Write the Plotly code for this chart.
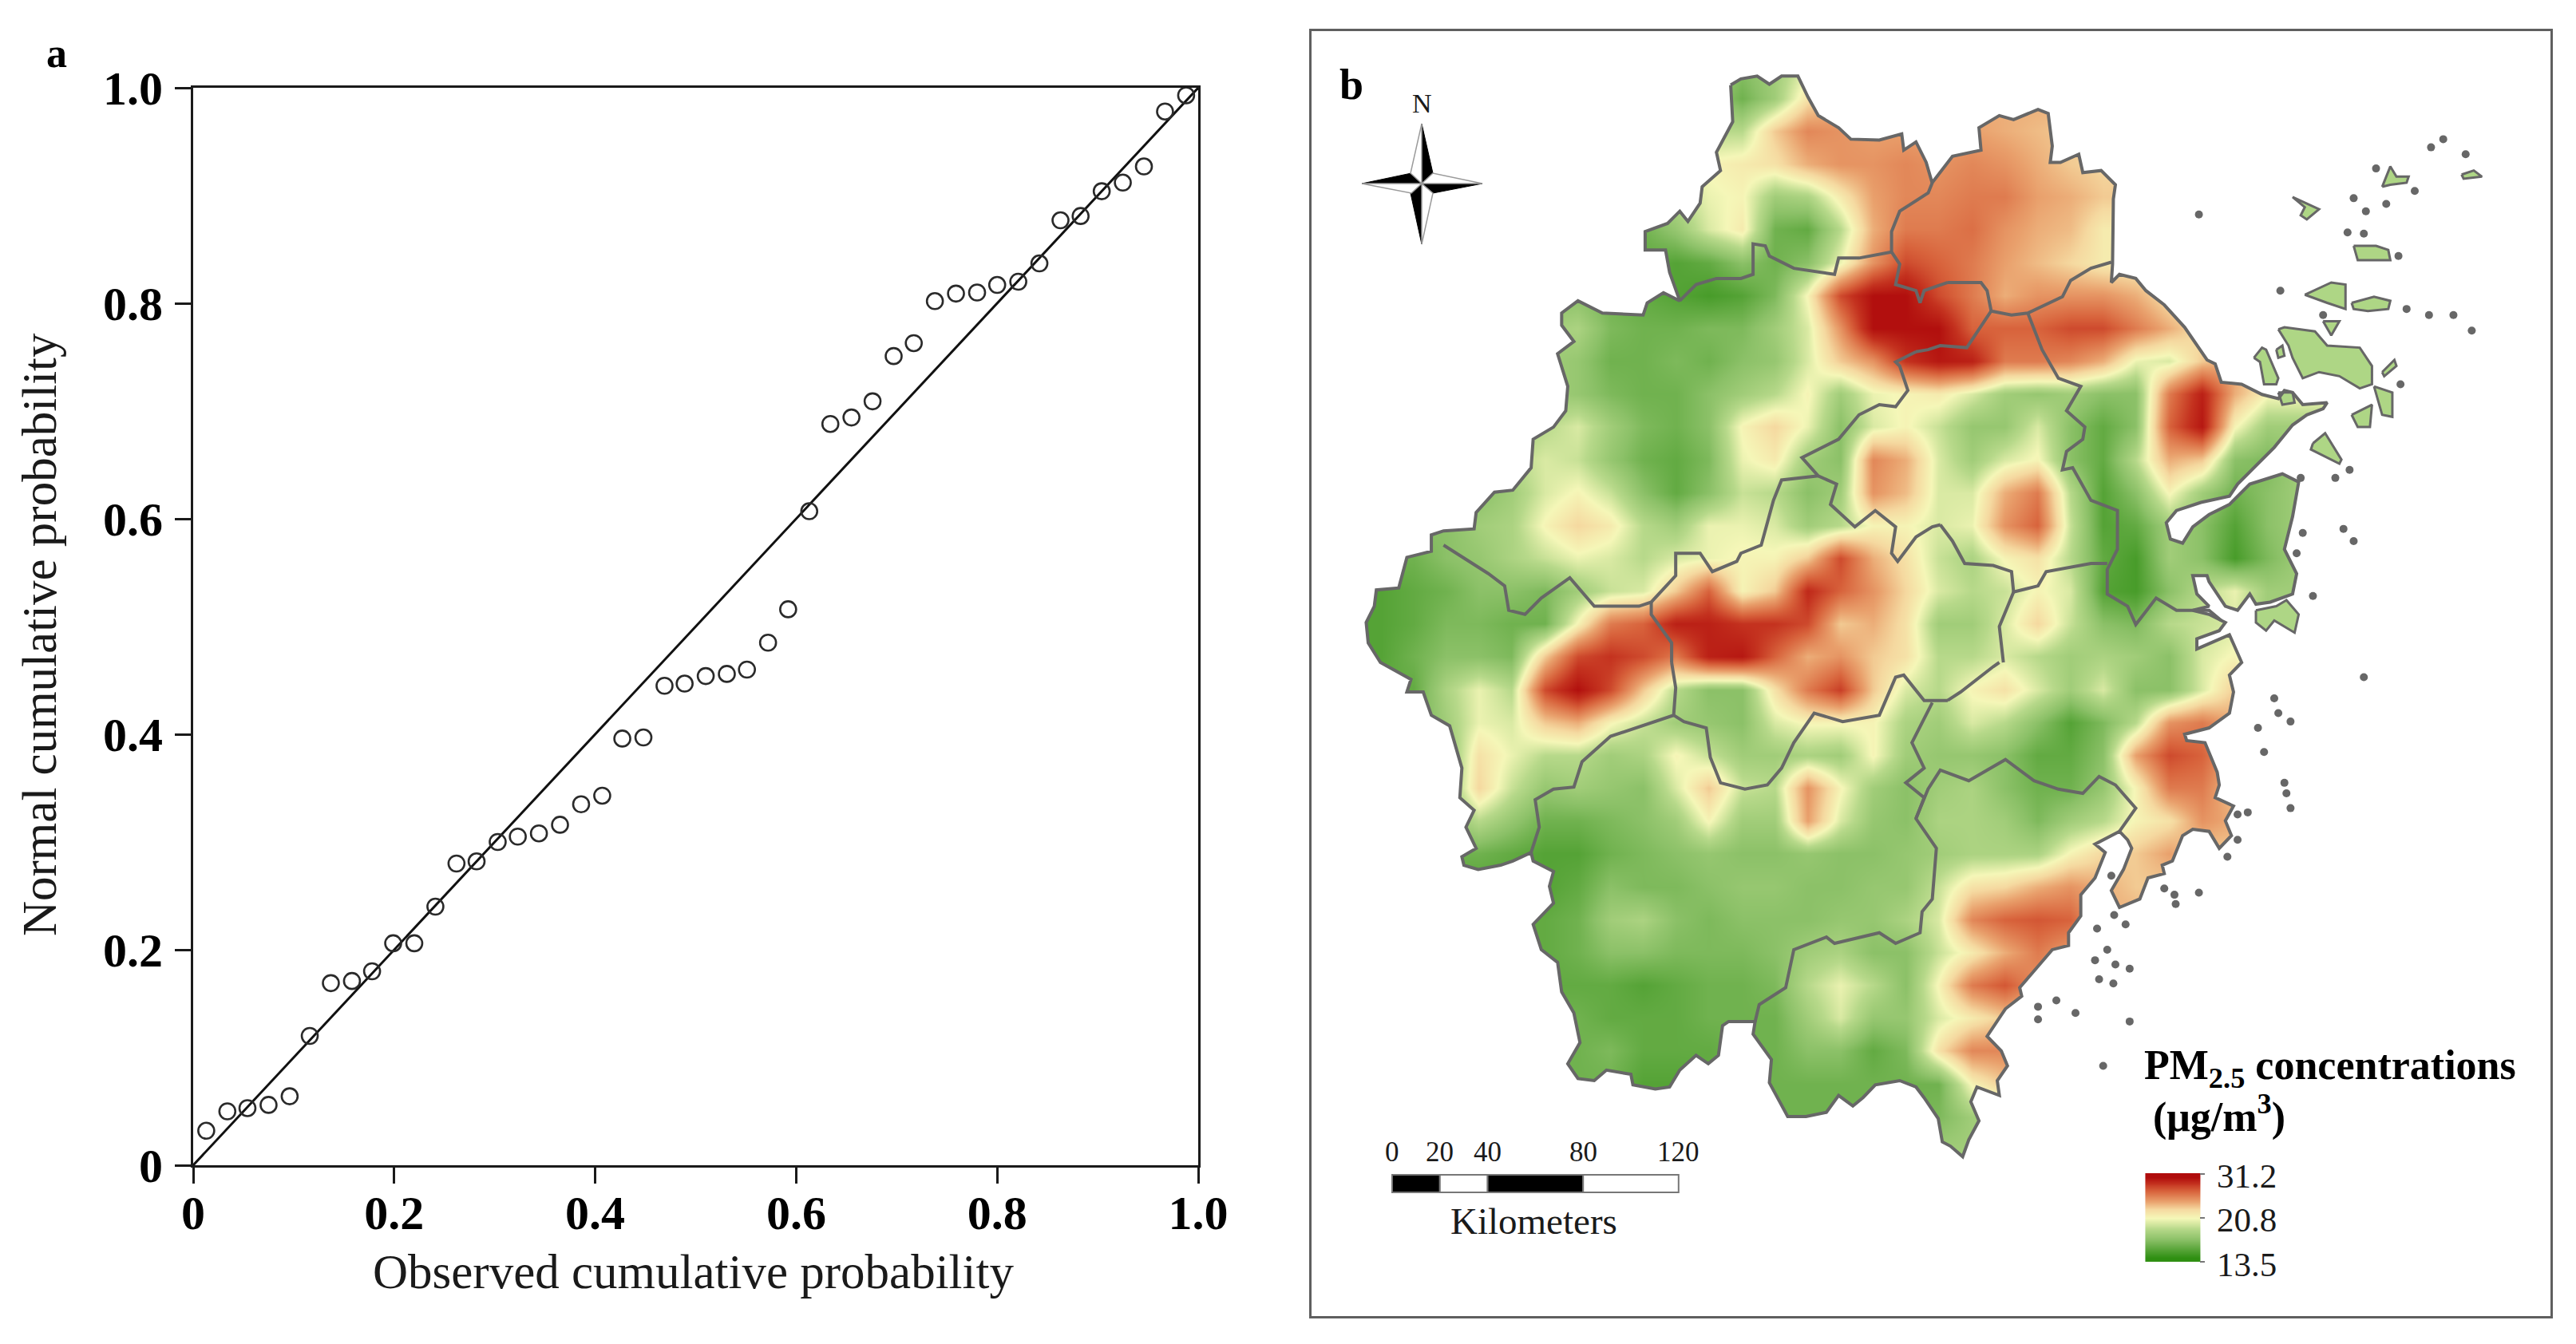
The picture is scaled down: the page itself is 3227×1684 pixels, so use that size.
"""
Two-panel figure: normal P-P plot (a) and PM2.5 map of Zhejiang (b).
Map values and outlines are read off the reference by eye.
"""

import plotly.graph_objects as go

W, H = 3227, 1684
PAGE_GAP = 8  # the browser page adds this much above and left of the figure
SERIF = "Liberation Serif"
INK = "#1a1a1a"
OUTLINE = "#676767"

# ── panel a ─────────────────────────────────────────────────────────────────

OBSERVED = [
    0.013, 0.034, 0.054, 0.075, 0.096, 0.116, 0.137, 0.158, 0.178, 0.199, 0.220, 0.241, 0.262, 0.282, 0.303, 0.323,
    0.344, 0.365, 0.386, 0.407, 0.427, 0.448, 0.469, 0.489, 0.510, 0.531, 0.551, 0.572, 0.592, 0.613, 0.634, 0.655,
    0.676, 0.697, 0.717, 0.738, 0.759, 0.780, 0.800, 0.821, 0.842, 0.863, 0.883, 0.904, 0.925, 0.946, 0.967, 0.988,
]
NORMAL = [
    0.032, 0.050, 0.053, 0.056, 0.064, 0.120, 0.169, 0.171, 0.180, 0.206, 0.206, 0.240, 0.280, 0.282, 0.300, 0.305,
    0.308, 0.316, 0.335, 0.343, 0.396, 0.397, 0.445, 0.447, 0.454, 0.456, 0.460, 0.485, 0.516, 0.607, 0.688, 0.694,
    0.709, 0.751, 0.763, 0.802, 0.809, 0.810, 0.817, 0.820, 0.837, 0.877, 0.881, 0.904, 0.912, 0.927, 0.978, 0.993,
]
REF_LINE = [0, 1]
TICK_VALUES = [0, 0.2, 0.4, 0.6, 0.8, 1.0]
TICK_LABELS = ["0", "0.2", "0.4", "0.6", "0.8", "1.0"]

# ── panel b: PM2.5 grid, one row every 41 px from the top of the map ────────

GRID_COLS = 31
PM25_ROWS = [
    [18, 18, 18, 18, 18, 18, 18, 18, 18, 18, 18, 18, 17, 18, 20, 22, 24],
    [18, 18, 18, 18, 18, 18, 18, 18, 18, 18, 18, 18, 16, 18, 22, 24, 24],
    [18, 18, 18, 18, 18, 18, 18, 18, 18, 18, 18, 19, 19, 23, 25.5, 25, 24.5, 24.5, 24.5, 24.5, 24, 23.5, 23, 23],
    [18, 18, 18, 18, 18, 18, 18, 18, 18, 18, 20, 21, 21.5, 22, 24, 25, 25, 25.5, 25, 25.5, 25, 24, 23, 22.5],
    [17, 17, 17, 17, 17, 17, 17, 17, 17, 18, 19, 20.5, 21, 18, 18.5, 21.5, 24.5, 25.5, 25.5, 26, 26, 24.5, 24, 23],
    [16, 16, 16, 16, 16, 16, 16, 16, 16, 16, 17.5, 20, 21.5, 16, 15.5, 19, 24, 26, 26, 26.5, 25, 24, 23.5, 21.5],
    [16, 16, 16, 16, 16, 16, 16, 16, 16, 15.5, 15, 15.5, 17, 16, 17, 20.5, 25, 28, 27, 26, 24.5, 23.5, 22.5, 21.5],
    [17, 17, 17, 17, 17, 17, 17, 17, 16, 15.5, 15, 14.5, 15, 16.5, 21, 28, 31, 31, 28, 26, 24, 25, 25, 25, 24, 22],
    [18, 18, 18, 18, 18, 18, 18, 18.5, 16.5, 16, 16, 16.5, 16.5, 18, 20, 25, 31, 31, 31, 27, 27, 27, 28, 28, 26, 24,
     22, 20],
    [18, 18, 18, 18, 18, 18, 18, 17.5, 16, 16, 16.5, 16, 17, 17.5, 20, 23, 25, 29, 30.5, 30, 26, 26, 25.5, 24, 20.5,
     20, 23, 24.5, 23],
    [18, 18, 18, 18, 18, 18, 18, 17.5, 16.5, 16, 16, 17, 18, 19, 21, 18, 20.5, 21, 21.5, 20, 18, 17.5, 18, 17, 17,
     26, 30, 24, 21, 21],
    [18, 18, 18, 18, 18, 18, 19, 20, 18, 16.5, 16, 17, 21, 22.5, 20.5, 17, 20, 21, 19.5, 17.5, 17.5, 20, 17, 15.5,
     17, 27, 30.5, 21, 18, 18],
    [17, 17, 17, 17, 17, 19, 20, 19.5, 17.5, 16, 15.5, 16.5, 20.5, 21.5, 18, 17, 25.5, 24, 20, 18, 20, 21, 17, 15.5,
     19, 24, 23, 17, 16.5, 18],
    [17, 17, 17, 17, 17, 18, 20, 21, 19.5, 17, 15.5, 17, 19.5, 19, 17, 18, 25, 23.5, 20, 20, 24, 26, 19, 15, 17, 21,
     18, 16, 17, 18],
    [17, 17, 17, 17, 18, 18.5, 21, 22.5, 21.5, 19, 18, 20.5, 20.5, 20, 18, 19, 21, 21, 20, 20.5, 25, 27, 19.5, 15,
     15.5, 18, 17, 15, 17, 18],
    [16, 16, 16, 17, 17.5, 18.5, 19.5, 20.5, 20, 19, 20, 20.5, 21, 21, 23, 28, 24, 22, 19.5, 18.5, 21, 22, 19, 15.5,
     14.5, 18, 17, 14.5, 16.5, 18],
    [15, 15, 15.5, 16, 17, 17, 16.5, 18, 19.5, 20, 23, 27, 21, 23, 29.5, 27, 25, 22.5, 20, 19, 19.5, 21, 20, 15,
     14.5, 17, 19, 20.5, 18, 18],
    [15, 15, 15.5, 16.5, 16.5, 16, 16, 21, 26, 27, 30, 30, 29, 29, 28, 23, 24, 22, 18, 18, 20, 22.5, 19.5, 17, 16.5,
     19, 19.5, 20, 18, 18],
    [15, 15, 16, 17, 17, 16.5, 23, 28, 29, 28, 26, 30, 30.5, 27, 24, 25, 23, 22, 19, 19, 20, 19, 18, 18.5, 18, 17,
     20, 21, 18, 18],
    [15.5, 15.5, 15.5, 18.5, 20.5, 19, 28, 31, 28, 23, 19, 17, 17, 22, 26, 28.5, 23, 20, 19, 21, 22, 20, 18, 20, 17,
     17, 20, 23, 22],
    [16, 16, 16, 18, 20.5, 20, 23, 24, 21, 19.5, 18, 17.5, 17, 20, 21, 21, 21, 18.5, 18, 20, 19, 17, 15, 16.5, 19,
     25, 26, 24],
    [17, 17, 17, 17, 22, 20.5, 19, 19, 18, 18.5, 21, 19.5, 18, 18, 18.5, 18, 21, 18, 17.5, 17.5, 17, 15.5, 15.5, 17,
     24.5, 28, 27, 24],
    [17, 17, 17, 17, 22.5, 19.5, 17.5, 18, 17.5, 17, 20, 23, 19.5, 19, 25, 21, 18, 17, 18, 18.5, 17, 16, 16, 17.5,
     21, 26, 26, 23],
    [17, 17, 17, 17, 19, 17.5, 16, 16, 16.5, 17, 18, 21, 18, 18, 24.5, 20, 17.5, 17, 18.5, 18.5, 18, 16.5, 18, 19,
     21, 22, 25, 24],
    [16, 16, 16, 16, 16, 15.5, 15, 15, 16, 16.5, 17, 17.5, 17, 17, 17.5, 17, 17, 17.5, 18, 18.5, 18.5, 18.5, 21,
     22.5, 23, 24.5, 23],
    [15, 15, 15, 15, 15, 15, 15, 15.5, 17, 16.5, 16.5, 17, 17.5, 17.5, 17, 17, 17.5, 17.5, 19.5, 22, 22.5, 24, 25,
     24, 23],
    [15.5, 15.5, 15.5, 15.5, 15.5, 15.5, 15.5, 16, 18, 18.5, 17, 16.5, 17, 17, 17, 17.5, 17.5, 18.5, 20, 25.5, 27,
     27.5, 27, 24],
    [15.5, 15.5, 15.5, 15.5, 15.5, 15.5, 15.5, 16, 17, 17, 16.5, 16.5, 16.5, 17, 18, 18.5, 17, 17, 19.5, 21.5, 24,
     26, 24.5],
    [15.5, 15.5, 15.5, 15.5, 15.5, 15.5, 15.5, 15.5, 15.5, 15, 15.5, 16, 16, 16.5, 19, 20.5, 19, 17, 21, 26, 27.5,
     25],
    [16, 16, 16, 16, 16, 16, 16, 16, 15.5, 15.5, 15.5, 16, 16, 16, 18, 20, 17.5, 17.5, 20, 21.5, 23],
    [16, 16, 16, 16, 16, 16, 16, 16, 16.5, 15.5, 15.5, 15.5, 16, 16, 17, 17, 15.5, 16.5, 22, 25.5, 25.5, 23],
    [16, 16, 16, 16, 16, 16, 16, 16, 16, 15, 15, 15.5, 16, 16, 16, 16, 16, 16, 16, 21, 23],
    [16, 16, 16, 16, 16, 16, 16, 16, 16, 16, 16, 16, 16, 16, 16, 16, 16, 16, 16.5, 18],
    [16, 16, 16, 16, 16, 16, 16, 16, 16, 16, 16, 16, 16, 16, 16, 16, 16, 16, 18, 18],
]
LEGEND_VALUES = [31.2, 28.5, 26.5, 24.5, 22.5, 20.8, 19.5, 18, 16.5, 15, 13.5]
LEGEND_LABELS = ["31.2", "20.8", "13.5"]
SCALE_KM = [0, 20, 40, 80, 120]

# outline vertices as traced in four crops of the map: north-west, north-east,
# south-west, south-east. px() below turns them into picture pixels.

COAST_TOP = [
    (1035, 150), (1060, 135), (1100, 128), (1130, 148), (1160, 128), (1200, 128), (1225, 180), (1250, 225),
    (1300, 255), (1330, 283), (1400, 285), (1455, 270), (1460, 310), (1490, 290), (1515, 340),
]
COAST_EAST = [
    (40, 390), (90, 325), (160, 310), (155, 255), (205, 225), (240, 235), (300, 210), (325, 220), (335, 300),
    (330, 340), (355, 340), (400, 320), (410, 365), (455, 360), (490, 395), (485, 430), (483, 590), (480, 635),
    (500, 615), (540, 625), (565, 655), (610, 690), (660, 745), (715, 825), (735, 835), (750, 880), (800, 885),
    (850, 910), (890, 920), (905, 900), (925, 905), (950, 935), (1010, 930), (1000, 945), (960, 960), (925, 985),
    (880, 1040), (830, 1090), (790, 1130), (770, 1160), (700, 1175), (640, 1195), (615, 1225), (625, 1265),
    (655, 1275), (680, 1235), (720, 1205), (770, 1180), (820, 1130), (900, 1105), (940, 1125), (925, 1210),
    (905, 1290), (935, 1350), (925, 1400), (870, 1420), (835, 1425), (820, 1400), (790, 1440), (760, 1430),
    (720, 1370), (715, 1355), (680, 1355), (690, 1400), (720, 1430), (680, 1440), (720, 1450), (760, 1470),
    (745, 1490), (690, 1510), (690, 1535), (770, 1500), (800, 1568),
]
COAST_SOUTH_EAST = [
    (770, 30), (780, 70), (770, 120), (720, 155), (660, 170), (665, 185), (710, 190), (740, 260), (745, 290),
    (735, 320), (780, 340), (760, 375), (775, 410), (745, 440), (720, 400), (680, 395), (655, 410), (630, 470),
    (605, 480), (610, 500), (570, 510), (550, 560), (500, 580), (480, 540), (510, 490), (530, 440), (520, 420),
    (500, 400), (440, 430), (465, 450), (440, 510), (405, 550), (405, 600), (375, 640), (375, 670), (335, 680),
    (255, 770), (260, 790), (220, 820), (175, 885), (210, 920), (225, 955), (200, 990), (205, 1025), (150, 1005),
    (135, 1040), (155, 1085), (130, 1130), (115, 1170), (85, 1145), (65, 1135), (55, 1080), (20, 1030),
]
COAST_SOUTH_WEST = [
    (1490, 1005), (1450, 990), (1390, 1000), (1360, 1030), (1335, 1050), (1300, 1025), (1270, 1065), (1220, 1075),
    (1175, 1075), (1130, 995), (1135, 940), (1090, 880), (1095, 850), (1030, 850), (1015, 860), (1005, 930),
    (980, 950), (950, 930), (910, 965), (885, 1005), (850, 1010), (795, 1000), (790, 975), (730, 965), (700, 990),
    (660, 985), (635, 950), (665, 900), (650, 830), (620, 780), (610, 710), (570, 680), (550, 620), (600, 570),
    (590, 530), (600, 495), (550, 470), (545, 450), (500, 470), (470, 480), (415, 490), (380, 480), (375, 460),
    (410, 440), (385, 390), (405, 350), (370, 320), (375, 250), (345, 150), (300, 125), (280, 70), (240, 70),
    (250, 40), (175, 0),
]
COAST_WEST = [
    (145, 1520), (140, 1470), (160, 1430), (165, 1390), (220, 1385), (240, 1310), (300, 1295), (300, 1255),
    (330, 1245), (405, 1240), (410, 1200), (455, 1150), (500, 1145), (545, 1090), (550, 1020), (600, 990),
    (630, 950), (635, 890), (610, 810), (650, 780), (620, 740), (620, 710), (660, 680), (720, 710), (820, 715),
    (830, 685), (870, 660), (910, 680), (885, 610), (875, 555), (825, 555), (825, 510), (880, 490), (910, 460),
    (930, 485), (960, 440), (965, 400), (1010, 360), (1000, 315), (1040, 240),
]

# city borders: (crop, vertices)
BORDERS = [
    ("nw", [(910, 680), (950, 640), (1000, 625), (1060, 625), (1090, 615), (1090, 540), (1120, 545), (1130, 570),
            (1190, 600), (1290, 615), (1300, 575), (1350, 575), (1430, 560)]),
    ("nw", [(1530, 390), (1520, 415), (1450, 460), (1430, 510), (1430, 560), (1450, 590), (1440, 640), (1490, 655),
            (1500, 685), (1510, 655), (1568, 635)]),
    ("ne", [(78, 635), (160, 635), (175, 655), (185, 705), (235, 715), (275, 710), (360, 670), (380, 630),
            (430, 600), (480, 585)]),
    ("ne", [(185, 705), (125, 795), (60, 790), (30, 800), (0, 805)]),
    ("nw", [(1490, 805), (1440, 830), (1450, 840), (1470, 900), (1440, 940), (1400, 935), (1350, 960), (1300, 1020),
            (1210, 1065), (1250, 1110), (1295, 1130), (1280, 1180), (1340, 1235), (1390, 1195), (1440, 1235),
            (1430, 1300), (1445, 1320), (1490, 1260), (1530, 1235), (1550, 1230)]),
    ("ne", [(60, 1230), (90, 1270), (120, 1325), (190, 1330), (235, 1345), (240, 1395), (300, 1380), (320, 1345),
            (430, 1325), (470, 1325)]),
    ("nw", [(1250, 1110), (1160, 1120), (1140, 1170), (1110, 1280), (1060, 1300), (1050, 1320), (990, 1345),
            (960, 1300), (900, 1300), (900, 1355), (840, 1420), (810, 1430), (700, 1430), (640, 1360), (570, 1410),
            (530, 1450), (490, 1440), (480, 1380), (440, 1350), (330, 1280)]),
    ("nw", [(840, 1420), (840, 1450), (890, 1520), (890, 1568)]),
    ("sw", [(890, 0), (900, 60), (895, 125), (820, 150), (740, 175), (670, 235), (650, 295), (600, 300), (555, 325),
            (565, 390), (545, 450)]),
    ("sw", [(895, 125), (920, 140), (975, 155), (985, 225), (1010, 285), (1070, 300), (1125, 290), (1160, 250),
            (1190, 190), (1240, 120), (1310, 140), (1400, 125), (1440, 35), (1460, 30), (1510, 90), (1568, 90)]),
    ("se", [(78, 90), (110, 70), (190, 10), (205, 0)]),
    ("ne", [(240, 1395), (205, 1480), (215, 1568)]),
    ("sw", [(1530, 95), (1480, 190), (1510, 250), (1465, 285), (1510, 320), (1490, 370), (1540, 440), (1530, 560),
            (1505, 590), (1500, 640), (1440, 665), (1400, 640), (1290, 665), (1270, 650), (1190, 680), (1170, 770),
            (1105, 810), (1095, 850)]),
    ("se", [(0, 370), (30, 300), (60, 255), (130, 280), (220, 230), (290, 280), (350, 300), (410, 310), (450, 270),
            (490, 290), (540, 345), (500, 400)]),
    ("ne", [(275, 710), (310, 800), (350, 870), (405, 890), (370, 950), (415, 990), (410, 1020), (370, 1050),
            (360, 1095), (385, 1090), (430, 1170), (495, 1195), (495, 1290), (470, 1340), (470, 1400), (520, 1430),
            (540, 1475), (590, 1410), (640, 1440), (720, 1440), (750, 1465)]),
]

ISLANDS = [
    [(890, 750), (905, 745), (980, 755), (1010, 790), (1090, 795), (1120, 840), (1120, 885), (1090, 895), (1040, 865),
     (990, 855), (950, 870), (925, 820), (915, 790)],
    [(830, 820), (850, 795), (860, 800), (890, 870), (885, 885), (855, 885), (845, 830)],
    [(955, 665), (1020, 635), (1055, 640), (1055, 700), (1010, 685)],
    [(1070, 685), (1125, 670), (1165, 680), (1160, 700), (1110, 705), (1075, 700)],
    [(1075, 545), (1130, 545), (1160, 555), (1165, 580), (1085, 580)],
    [(925, 425), (990, 455), (960, 480), (945, 470), (955, 450)],
    [(1125, 890), (1170, 905), (1170, 965), (1145, 960)],
    [(975, 1030), (1005, 1005), (1045, 1070), (1040, 1080), (970, 1045)],
    [(1070, 960), (1120, 935), (1115, 990), (1085, 990)],
    [(1145, 855), (1175, 825), (1180, 840), (1150, 865)],
    [(1145, 400), (1165, 350), (1180, 375), (1210, 375), (1205, 390), (1165, 395)],
    [(1340, 370), (1370, 360), (1390, 375), (1345, 380)],
    [(1000, 730), (1040, 730), (1020, 765)],
    [(890, 905), (925, 905), (930, 930), (900, 935)],
    [(885, 800), (900, 790), (905, 815), (890, 820)],
    [(835, 1440), (885, 1430), (910, 1415), (940, 1450), (930, 1495), (880, 1465), (860, 1490), (835, 1470)],
]
ISLETS_NE = [
    (695, 468), (1075, 428), (1295, 283), (1265, 303), (1350, 320), (1130, 355), (1225, 410), (1155, 442), (1105, 460),
    (1060, 512), (1100, 515), (1185, 570), (895, 655), (1205, 700), (1260, 715), (1320, 715), (1365, 753), (1000, 715),
    (1190, 885), (1030, 1115), (1065, 1095), (950, 1250), (935, 1300), (975, 1405), (1075, 1270), (945, 1115),
    (1050, 1240),
]
ISLETS_SE = [
    (1100, 35), (880, 85), (890, 120), (920, 140), (840, 155), (855, 212), (905, 285), (910, 310), (920, 345),
    (815, 355), (790, 360), (790, 420), (765, 460), (610, 535), (695, 545), (635, 550), (638, 572), (480, 505),
    (487, 598), (515, 620), (445, 630), (470, 680), (440, 705), (490, 715), (525, 725), (450, 750), (485, 760),
    (300, 815), (345, 800), (392, 830), (300, 845), (525, 850), (460, 955),
]

# ── helpers ─────────────────────────────────────────────────────────────────


def px(crop, pts):
    """Crop coordinates to picture pixels."""
    x0 = 1640 if crop in ("nw", "sw") else 2400
    y0, sy = (30, 0.5102) if crop in ("nw", "ne") else (830, 0.5293)
    return [(x0 + x * 0.5102, y0 + y * sy) for x, y in pts]


def split(pts):
    return [p[0] for p in pts], [p[1] for p in pts]


def signed_area(pts):
    return sum(a[0] * b[1] - b[0] * a[1] for a, b in zip(pts, pts[1:] + pts[:1])) / 2


def joined(paths):
    xs, ys = [], []
    for path in paths:
        x, y = split(path)
        xs += x + [None]
        ys += y + [None]
    return xs, ys


def label(text, x, y, size, bold=False, **kwargs):
    return dict(
        text=f"<b>{text}</b>" if bold else text,
        x=x, y=y, xref="x2", yref="y2", showarrow=False, xanchor=kwargs.pop("xanchor", "center"),
        yanchor="middle", font=dict(family=SERIF, size=size, color=kwargs.pop("color", INK)), **kwargs,
    )


def page_label(text, x, y, size, **kwargs):
    return dict(
        text=text, x=(x - PAGE_GAP) / W, y=1 - (y - PAGE_GAP) / H, xref="paper", yref="paper", showarrow=False,
        xanchor="center", yanchor="middle", font=dict(family=SERIF, size=size, color=kwargs.pop("color", INK)),
        **kwargs,
    )


def x_domain(left, right):
    return [(left - PAGE_GAP) / W, (right - PAGE_GAP) / W]


def y_domain(top, bottom):
    return [1 - (bottom - PAGE_GAP) / H, 1 - (top - PAGE_GAP) / H]


province = (
    px("nw", COAST_TOP) + px("ne", COAST_EAST) + px("se", COAST_SOUTH_EAST)
    + px("sw", COAST_SOUTH_WEST) + px("nw", COAST_WEST)
)
province_closed = province + province[:1]

# white sheet with a province-shaped hole keeps the smooth grid inside the coast
sheet = [(1650, 50), (2960, 50), (2960, 1463), (1650, 1463)]
hole = province if signed_area(province) * signed_area(sheet) < 0 else province[::-1]

z_grid = [row + [row[-1]] * (GRID_COLS - len(row)) for row in PM25_ROWS]
grid_x = [1688 + 41.16 * i for i in range(GRID_COLS)]
grid_y = [82 + 41.16 * j for j in range(len(z_grid))]

fig = go.Figure()

# ── panel a traces ──────────────────────────────────────────────────────────

fig.add_trace(go.Scatter(
    x=REF_LINE, y=REF_LINE, mode="lines", line=dict(color="#111111", width=3), xaxis="x", yaxis="y",
    cliponaxis=False,
))
fig.add_trace(go.Scatter(
    x=OBSERVED, y=NORMAL, mode="markers", xaxis="x", yaxis="y", cliponaxis=False,
    marker=dict(symbol="circle-open", size=20, color="#2a2a2a", line=dict(width=2.6, color="#2a2a2a")),
))

# ── panel b traces ──────────────────────────────────────────────────────────

fig.add_trace(go.Heatmap(
    x=grid_x, y=grid_y, z=z_grid, xaxis="x2", yaxis="y2", coloraxis="coloraxis", zsmooth="best", hoverinfo="skip",
))
mask_x, mask_y = joined([sheet + sheet[:1], hole + hole[:1]])
fig.add_trace(go.Scatter(
    x=mask_x, y=mask_y, mode="lines", fill="toself", fillcolor="white", line=dict(width=0), xaxis="x2", yaxis="y2",
    hoverinfo="skip",
))
island_paths = [px("ne", isl + isl[:1]) for isl in ISLANDS]
island_x, island_y = joined(island_paths)
fig.add_trace(go.Scatter(
    x=island_x, y=island_y, mode="lines", fill="toself", fillcolor="#aed685",
    line=dict(color=OUTLINE, width=3), xaxis="x2", yaxis="y2", hoverinfo="skip",
))
border_paths = [province_closed] + [px(crop, pts) for crop, pts in BORDERS]
border_x, border_y = joined(border_paths)
fig.add_trace(go.Scatter(
    x=border_x, y=border_y, mode="lines", line=dict(color=OUTLINE, width=4), xaxis="x2", yaxis="y2",
    hoverinfo="skip",
))
islet_x, islet_y = split(px("ne", ISLETS_NE) + px("se", ISLETS_SE))
fig.add_trace(go.Scatter(
    x=islet_x, y=islet_y, mode="markers", marker=dict(color=OUTLINE, size=10), xaxis="x2", yaxis="y2",
    hoverinfo="skip",
))

# colour legend, stretched like the ArcGIS ramp so 20.8 sits mid-way
fig.add_trace(go.Heatmap(
    x=[2704.6, 2738.9], y=[1475 + 10.1 * i for i in range(len(LEGEND_VALUES))],
    z=[[v, v] for v in LEGEND_VALUES], xaxis="x2", yaxis="y2", coloraxis="coloraxis", zsmooth="best",
    hoverinfo="skip",
))

# ── compass and scale bar ───────────────────────────────────────────────────

CX, CY = 1781, 230
shapes = []
for (ax, ay), (bx, by) in [((0, -75), (14, -13)), ((-75, 0), (-13, -13)), ((0, 76), (-14, 12)), ((76, 0), (14, 12))]:
    shapes.append(dict(
        type="path", xref="x2", yref="y2", fillcolor="black", line=dict(color="black", width=1),
        path=f"M{CX + ax},{CY + ay} L{CX + bx},{CY + by} L{CX},{CY} Z",
    ))
for (ax, ay), (bx, by) in [((0, -75), (-14, -13)), ((-75, 0), (-13, 12)), ((0, 76), (14, 12)), ((76, 0), (14, -13))]:
    shapes.append(dict(
        type="path", xref="x2", yref="y2", fillcolor="white", line=dict(color="#9a9a9a", width=1.5),
        path=f"M{CX + ax},{CY + ay} L{CX + bx},{CY + by} L{CX},{CY} Z",
    ))

KM_PX = 2.99
SCALE_X0 = 1744
for i, (a, b) in enumerate(zip(SCALE_KM, SCALE_KM[1:])):
    shapes.append(dict(
        type="rect", xref="x2", yref="y2", x0=SCALE_X0 + a * KM_PX, x1=SCALE_X0 + b * KM_PX, y0=1472, y1=1494,
        fillcolor="black" if i % 2 == 0 else "white", line=dict(color="#777777", width=2),
    ))
for y_px in (1471, 1526, 1581):
    shapes.append(dict(
        type="line", xref="x2", yref="y2", x0=2756, x1=2762, y0=y_px, y1=y_px, line=dict(color="#777777", width=2),
    ))

# ── text ────────────────────────────────────────────────────────────────────

annotations = [
    page_label("<b>a</b>", 71, 67, 52, color="#000000"),
    page_label("Observed cumulative probability", 868, 1593, 61),
    page_label("Normal cumulative probability", 50, 795, 61, textangle=-90),
    label("b", 1693, 106, 54, bold=True, color="#000000"),
    label("N", 1781, 129, 34),
    label("Kilometers", 1921, 1530, 47),
    label("PM<sub>2.5</sub> concentrations", 2684, 1338, 52, bold=True, xanchor="left", color="#000000"),
    label("(μg/m<sup>3</sup>)", 2695, 1396, 52, bold=True, xanchor="left", color="#000000"),
]
for km in SCALE_KM:
    annotations.append(label(str(km), SCALE_X0 + km * KM_PX, 1443, 35))
for text, y_px in zip(LEGEND_LABELS, (1473, 1528, 1584)):
    annotations.append(label(text, 2775, y_px, 43, xanchor="left"))

axis_a = dict(
    range=[0, 1], tickvals=TICK_VALUES, ticktext=TICK_LABELS, ticks="outside", ticklen=20, tickwidth=3,
    tickcolor=INK, showline=True, mirror=True, linecolor=INK, linewidth=3, showgrid=False, zeroline=False,
    tickfont=dict(family=SERIF, size=60, color="#000000", weight="bold"), tickangle=0,
)
axis_b = dict(showticklabels=False, ticks="", showline=True, mirror=True, linecolor="#5f5f5f", linewidth=3,
              showgrid=False, zeroline=False)

fig.update_layout(
    width=W, height=H, autosize=False, margin=dict(l=0, r=0, t=0, b=0, autoexpand=False),
    paper_bgcolor="white", plot_bgcolor="white", showlegend=False,
    xaxis=dict(**axis_a, domain=x_domain(242, 1501), anchor="y", ticklabelstandoff=-15),
    yaxis=dict(**axis_a, domain=y_domain(110, 1460), anchor="x", ticklabelstandoff=3),
    xaxis2=dict(**axis_b, domain=x_domain(1643, 3195), range=[1643, 3195], anchor="y2"),
    yaxis2=dict(**axis_b, domain=y_domain(39, 1649), range=[1649, 39], anchor="x2"),
    coloraxis=dict(
        cmin=13.5, cmax=31.2, showscale=False,
        colorscale=[
            [0, "#2f8f12"], [0.085, "#55a336"], [0.198, "#8cc168"], [0.311, "#b7d98a"], [0.412, "#f5f7b8"],
            [0.508, "#f5d9a0"], [0.621, "#e9a06c"], [0.763, "#d8633c"], [0.876, "#c4321f"], [1, "#b00c0c"],
        ],
    ),
    shapes=shapes,
    annotations=annotations,
)

fig.write_html("out.html")
